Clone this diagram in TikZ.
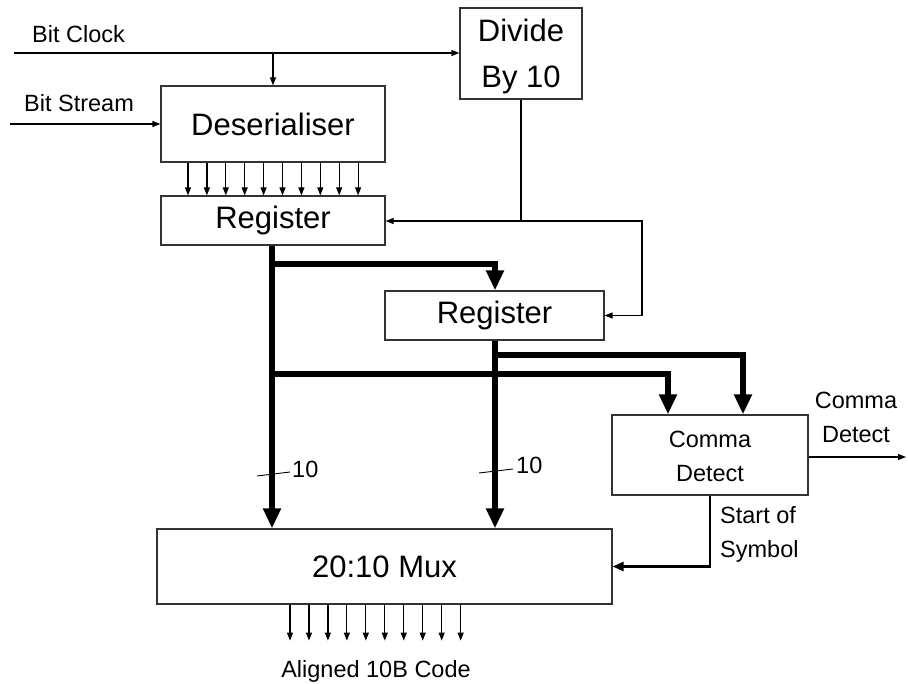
\documentclass[tikz,border=0pt]{standalone}
\usepackage{fontspec}
\setmainfont{Liberation Sans}
\usetikzlibrary{arrows.meta}
\newcommand\smallfnt{\fontsize{23.5}{34}\selectfont}
\newcommand\largefnt{\fontsize{31}{46}\selectfont}
\begin{document}
\begin{tikzpicture}[x=1pt,y=-1pt,
  blockbox/.style={draw=black!80,line width=1.2pt,inner sep=0pt,font=\largefnt},
  lbl/.style={inner sep=0pt,font=\smallfnt},
  wire/.style={line width=1.2pt},
  wirearrow/.style={line width=1.2pt,-{Triangle[length=8pt,width=6pt]}},
  medarrow/.style={line width=2.6pt,-{Triangle[length=11pt,width=9pt]}},
  busarrow/.style={line width=5.5pt,-{Triangle[length=20pt,width=17pt]}}]
\useasboundingbox (0,0) rectangle (908,684);
% blocks
\node[blockbox,minimum width=224pt,minimum height=76pt] (des) at (273,124) {Deserialiser};
\node[blockbox,minimum width=224pt,minimum height=49pt] (reg1) at (273,220.5) {Register};
\node[blockbox,minimum width=122pt,minimum height=91pt] (div) at (521,53.5) {};
\node[inner sep=0pt,font=\largefnt,align=center,anchor=base] (divt) at (521,88) {Divide\\By 10};
\node[blockbox,minimum width=219pt,minimum height=49pt] (reg2) at (494.5,315.5) {Register};
\node[blockbox,minimum width=196pt,minimum height=80pt] (cd) at (710,455) {};
\node[lbl,align=center,anchor=base] (cdt) at (710,482) {Comma\\Detect};
\node[blockbox,minimum width=455pt,minimum height=75pt] (mux) at (384.5,566.5) {20:10 Mux};
% labels
\node[lbl,anchor=base west] (tbc) at (32,43) {Bit Clock};
\node[lbl,anchor=base west] (tbs) at (24,112) {Bit Stream};
\node[lbl,anchor=base,align=center] (tcd) at (856,443) {Comma\\Detect};
\node[lbl,anchor=base west,align=left] (tss) at (720,557) {Start of\\Symbol};
\node[lbl,anchor=base] (tal) at (376,677) {Aligned 10B Code};
\node[lbl,anchor=base west] (t10a) at (292,478) {10};
\node[lbl,anchor=base west] (t10b) at (516,474) {10};
% inputs
\coordinate (bcs) at (14,53);
\coordinate (bss) at (10,124);
\draw[wirearrow] (bcs) -- (div.west |- bcs);
\draw[wirearrow] (des.north |- bcs) -- (des.north);
\draw[wirearrow] (bss) -- (des.west);
% deserialiser to register
\foreach \i in {0,...,9}
  \draw[wirearrow] ([xshift={-85+18.9*\i}]des.south) -- ([xshift={-85+18.9*\i}]reg1.north);
% divided clock
\coordinate (cj) at (521,221);
\coordinate (cr) at (642,221);
\draw[wire] (div.south) -- (cj);
\draw[wirearrow] (cj) -- (reg1.east |- cj);
\draw[wirearrow] (cj) -- (cr) |- (reg2.east);
% buses
\coordinate (b1) at (272,264);
\coordinate (b2) at (272,374);
\coordinate (b3) at (495,355);
\draw[busarrow] (reg1.south -| b1) -- (mux.north -| b1);
\draw[busarrow] (b1) -| (reg2.north -| b3);
\draw[busarrow] (reg2.south -| b3) -- (mux.north -| b3);
\draw[busarrow] (b2) -| ([xshift=-42pt]cd.north);
\draw[busarrow] (b3) -| ([xshift=33pt]cd.north);
% bus width ticks
\coordinate (k1a) at (257,476);
\coordinate (k1b) at (290,472);
\coordinate (k2a) at (479,473);
\coordinate (k2b) at (513,469);
\draw[line width=0.9pt] (k1a) -- (k1b);
\draw[line width=0.9pt] (k2a) -- (k2b);
% comma detect outputs
\coordinate (cdo) at (906,457);
\draw[wirearrow] (cd.east |- cdo) -- (cdo);
\draw[medarrow] (cd.south) |- (mux.east);
% mux outputs
\foreach \i in {0,...,9}
  \draw[wirearrow] ([xshift={-94.5+18.96*\i}]mux.south) -- ++(0,36);
\end{tikzpicture}
\end{document}
